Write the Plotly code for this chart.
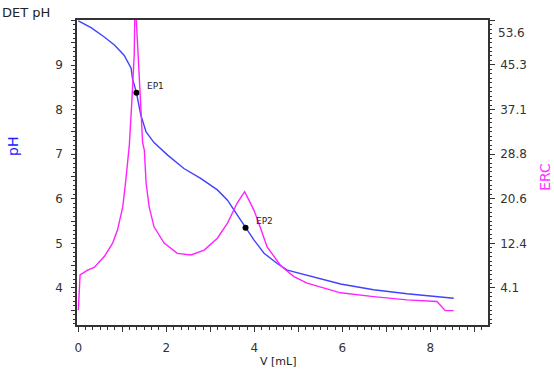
import plotly.graph_objects as go

# ---- data ----
v_ph = [0.0, 0.29, 0.59, 0.82, 1.04, 1.20, 1.23, 1.32, 1.42, 1.54, 1.72, 2.03, 2.40, 2.78,
        3.16, 3.39, 3.61, 3.80, 3.99, 4.22, 4.52, 4.75, 5.20, 5.96, 6.71, 7.47, 8.53]
ph = [9.99, 9.84, 9.63, 9.45, 9.22, 8.93, 8.70, 8.38, 7.88, 7.50, 7.26, 6.98, 6.68, 6.46,
      6.20, 5.97, 5.64, 5.35, 5.08, 4.78, 4.55, 4.40, 4.29, 4.09, 3.96, 3.87, 3.77]

v_erc = [0.0, 0.04, 0.21, 0.36, 0.59, 0.78, 0.89, 1.01, 1.08, 1.16, 1.22, 1.27, 1.29, 1.35,
         1.41, 1.46, 1.50, 1.54, 1.61, 1.72, 1.95, 2.25, 2.56, 2.86, 3.16, 3.39, 3.61, 3.78,
         3.99, 4.14, 4.29, 4.60, 4.90, 5.20, 5.65, 5.96, 6.71, 7.47, 8.15, 8.34, 8.53]
erc = [0.0, 6.5, 7.4, 7.9, 9.9, 12.4, 14.8, 19.1, 24.1, 30.6, 39.2, 47.2, 58.0, 47.2,
       39.2, 31.0, 29.6, 23.5, 19.1, 15.4, 12.4, 10.5, 10.2, 11.1, 13.3, 16.1, 19.8, 21.9,
       18.5, 15.2, 11.7, 8.2, 6.2, 5.0, 4.0, 3.2, 2.5, 1.9, 1.6, -0.1, -0.1]

ep_names = ["EP1", "EP2"]
ep_v = [1.32, 3.80]
ep_ph = [8.38, 5.35]
ep_label_v = [1.51, 3.99]
ep_label_ph = [8.53, 5.50]

x_tickvals = [0, 1, 2, 3, 4, 5, 6, 7, 8, 9]
x_ticktext = ["0", "", "2", "", "4", "", "6", "", "8", ""]
ph_tickvals = [3.5, 4, 4.5, 5, 5.5, 6, 6.5, 7, 7.5, 8, 8.5, 9, 9.5, 10]
ph_ticktext = ["", "4", "", "5", "", "6", "", "7", "", "8", "", "9", "", ""]
erc_tickvals = [4.1, 12.35, 20.6, 28.85, 37.1, 45.35, 53.6]
erc_ticktext = ["4.1", "12.4", "20.6", "28.8", "37.1", "45.3", ""]
erc_top_label = "53.6"

BLUE = "#4141ff"
MAG = "#ff22ff"
AX = "#333333"
FONT = "DejaVu Sans"

fig = go.Figure()
fig.add_trace(go.Scatter(x=v_erc, y=erc, mode="lines", yaxis="y2",
                         line=dict(color=MAG, width=1.4), showlegend=False))
fig.add_trace(go.Scatter(x=v_ph, y=ph, mode="lines",
                         line=dict(color=BLUE, width=1.4), showlegend=False))
fig.add_trace(go.Scatter(x=ep_v, y=ep_ph, mode="markers",
                         marker=dict(color="black", size=6), showlegend=False))

for name, lx, ly in zip(ep_names, ep_label_v, ep_label_ph):
    fig.add_annotation(x=lx, y=ly, xref="x", yref="y", text=name, showarrow=False,
                       xanchor="left", yanchor="middle",
                       font=dict(family=FONT, size=9, color="#222222"))

fig.add_annotation(x=1.0, xref="paper", y=0.957, yref="paper", text=erc_top_label,
                   showarrow=False, xanchor="left", yanchor="middle", xshift=8,
                   font=dict(family=FONT, size=12, color=AX))
fig.add_annotation(x=-0.1873, xref="paper", y=1.056, yref="paper", text="DET pH",
                   showarrow=False, xanchor="left", yanchor="top",
                   font=dict(family=FONT, size=13, color="#222222"))
fig.add_annotation(x=-0.1557, xref="paper", y=0.5836, yref="paper", text="pH",
                   showarrow=False, textangle=-90, xanchor="center", yanchor="middle",
                   font=dict(family=FONT, size=14, color="#2020ff"))
fig.add_annotation(x=1.138, xref="paper", y=0.485, yref="paper", text="ERC",
                   showarrow=False, textangle=-90, xanchor="center", yanchor="middle",
                   font=dict(family=FONT, size=14, color="#ff33ff"))
fig.add_annotation(x=0.49, xref="paper", y=-0.092, yref="paper", text="V [mL]",
                   showarrow=False, xanchor="center", yanchor="top",
                   font=dict(family=FONT, size=11, color="#222222"))

fig.update_layout(
    width=554, height=369,
    margin=dict(l=77, r=66, t=20, b=44, autoexpand=False),
    paper_bgcolor="white", plot_bgcolor="white",
    font=dict(family=FONT, size=12, color=AX),
    xaxis=dict(range=[-0.03, 9.31], showgrid=False, zeroline=False, automargin=False,
               showline=True, linecolor=AX, linewidth=1.5, mirror=True,
               ticks="outside", ticklen=5, tickwidth=1, tickcolor=AX,
               tickvals=x_tickvals, ticktext=x_ticktext, ticklabelstandoff=6,
               minor=dict(tick0=0, dtick=1/6, ticks="outside", ticklen=3,
                          tickcolor=AX, showgrid=False)),
    yaxis=dict(range=[3.17, 10.01], showgrid=False, zeroline=False, automargin=False,
               showline=True, linecolor=AX, linewidth=1.5,
               ticks="outside", ticklen=4, tickwidth=1, tickcolor=AX,
               tickvals=ph_tickvals, ticktext=ph_ticktext, ticklabelstandoff=6,
               minor=dict(tick0=0, dtick=0.1, ticks="outside", ticklen=2,
                          tickcolor=AX, showgrid=False)),
    yaxis2=dict(range=[-2.75, 53.65], overlaying="y", side="right", anchor="x",
                showgrid=False, zeroline=False, automargin=False,
                showline=True, linecolor=AX, linewidth=1.5,
                ticks="outside", ticklen=5, tickwidth=1, tickcolor=AX,
                tickvals=erc_tickvals, ticktext=erc_ticktext, ticklabelstandoff=3,
                minor=dict(tick0=4.1, dtick=0.825, ticks="outside", ticklen=2,
                           tickcolor=AX, showgrid=False)),
)

fig.write_html("out.html", config={"displayModeBar": False},
               post_script="document.body.style.margin='0';document.body.style.padding='0';")
